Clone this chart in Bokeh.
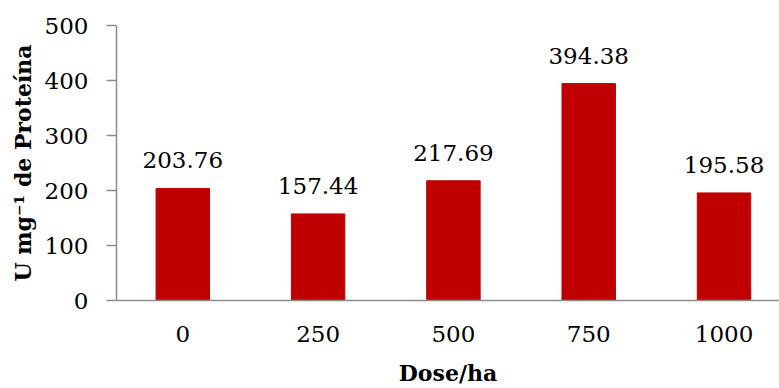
from bokeh.plotting import figure
from bokeh.models import ColumnDataSource, Range1d, FixedTicker
from bokeh.core.properties import value
from bokeh.embed import file_html
from bokeh.resources import INLINE

# Enzyme activity by dose
doses = ["0", "250", "500", "750", "1000"]
activity = [203.76, 157.44, 217.69, 394.38, 195.58]
y_ticks = [0, 100, 200, 300, 400, 500]

FONT = "DejaVu Serif"
BAR = "#C00000"
AXIS = "#8C8C8C"

xs = list(range(len(doses)))
src = ColumnDataSource(dict(
    x=xs,
    top=activity,
    label=[f"{v:.2f}" for v in activity],
))

p = figure(
    width=779, height=388,
    x_range=Range1d(-0.49, 4.41),
    y_range=Range1d(0, 500),
    output_backend="svg", toolbar_location=None, tools="",
    min_border_left=116, min_border_right=0,
    min_border_top=25, min_border_bottom=87,
)
p.outline_line_color = None
p.xgrid.visible = False
p.ygrid.visible = False

p.vbar(x="x", top="top", width=0.395, source=src,
       fill_color=BAR, line_color=BAR)

p.text(x="x", y="top", text="label", source=src,
       text_align="center", text_baseline="alphabetic", y_offset=-28,
       text_font=value(FONT), text_font_size="23px", text_color="black")

# x axis: category labels, no tick marks
xa = p.xaxis[0]
xa.ticker = FixedTicker(ticks=xs)
xa.major_label_overrides = {i: d for i, d in enumerate(doses)}
xa.major_tick_line_color = None
xa.minor_tick_line_color = None
xa.axis_line_color = AXIS
xa.axis_line_width = 1.5
xa.major_label_text_font = FONT
xa.major_label_text_font_size = "23px"
xa.major_label_text_color = "black"
xa.major_label_standoff = 19
xa.axis_label = "Dose/ha"
xa.axis_label_text_font = FONT
xa.axis_label_text_font_style = "bold"
xa.axis_label_text_font_size = "22px"
xa.axis_label_text_color = "black"
xa.axis_label_standoff = 15

# y axis
ya = p.yaxis[0]
ya.ticker = FixedTicker(ticks=y_ticks)
ya.minor_tick_line_color = None
ya.axis_line_color = AXIS
ya.axis_line_width = 1.5
ya.major_tick_line_color = AXIS
ya.major_tick_line_width = 1.5
ya.major_tick_in = 0
ya.major_tick_out = 10
ya.major_label_text_font = FONT
ya.major_label_text_font_size = "23px"
ya.major_label_text_color = "black"
ya.major_label_standoff = 18
ya.axis_label = "U mg\u207b\u00b9 de Proteína"
ya.axis_label_text_font = FONT
ya.axis_label_text_font_style = "bold"
ya.axis_label_text_font_size = "22px"
ya.axis_label_text_color = "black"
ya.axis_label_standoff = 6

open("out.html", "w").write(file_html(p, INLINE))
